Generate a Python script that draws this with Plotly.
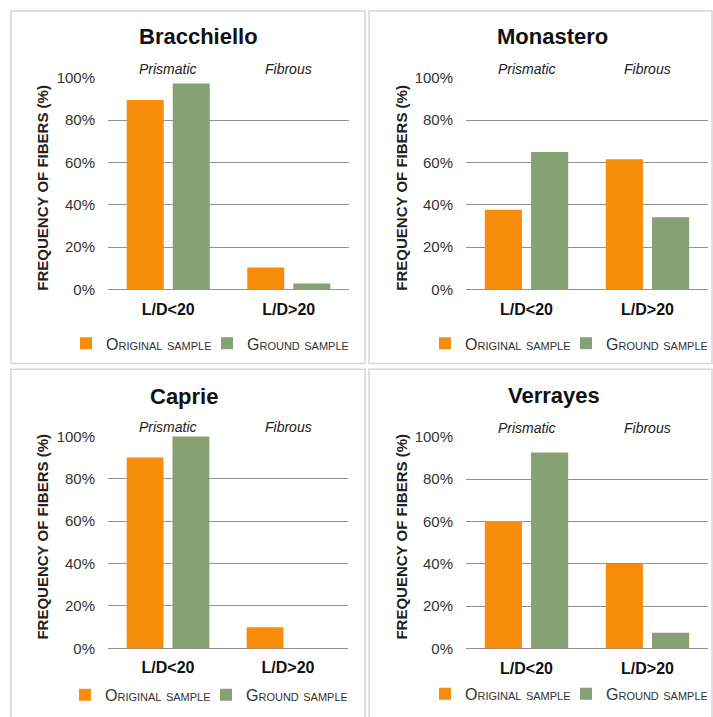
import plotly.graph_objects as go
from plotly.subplots import make_subplots

W, H = 713, 717

categories = ["L/D<20", "L/D>20"]
shape_labels = ["Prismatic", "Fibrous"]
sites = ["Bracchiello", "Monastero", "Caprie", "Verrayes"]
original = {
    "Bracchiello": [89.6, 10.4],
    "Monastero": [37.7, 61.5],
    "Caprie": [90.0, 10.0],
    "Verrayes": [60.2, 39.9],
}
ground = {
    "Bracchiello": [97.4, 2.8],
    "Monastero": [65.0, 34.2],
    "Caprie": [100.0, 0.0],
    "Verrayes": [92.6, 7.5],
}
y_ticks = [0, 20, 40, 60, 80, 100]
y_ticklabels = ["0%", "20%", "40%", "60%", "80%", "100%"]
series_names = ["Original sample", "Ground sample"]

ORANGE = "#F88D0B"
GREEN = "#86A174"
FONT = "Liberation Sans, Arial, Helvetica, sans-serif"

# the capture places the page slightly shifted/compressed vertically;
# these two numbers compensate for that
Y_OFF, Y_SCALE = 8.0, 0.978

def px(x):
    return x / W

def py(y):
    return 1 - ((y - Y_OFF) / Y_SCALE) / H

fig = make_subplots(rows=2, cols=2)

# plot-area domains in pixels (left, right, top, bottom)
domains = [
    (108, 349, 77, 289),
    (466, 708, 77, 289),
    (108, 348, 436, 648.5),
    (466, 708, 436.5, 648.7),
]
title_pos = [(198, 36), (552, 36), (184, 396), (554, 395)]
ytitle_pos = [(42.5, 187.5), (401.5, 187.5), (42.5, 537), (401.5, 537)]
legend_y = [343, 343, 695, 694]

annotations = []
for i, site in enumerate(sites):
    r, c = i // 2 + 1, i % 2 + 1
    leg = "legend" if i == 0 else f"legend{i+1}"
    fig.add_trace(go.Bar(x=categories, y=original[site], name=series_names[0],
                         marker=dict(color=ORANGE, line=dict(width=0)),
                         legend=leg), row=r, col=c)
    fig.add_trace(go.Bar(x=categories, y=ground[site], name=series_names[1],
                         marker=dict(color=GREEN, line=dict(width=0)),
                         legend=leg), row=r, col=c)
    l, rr, t, b = domains[i]
    ax = "" if i == 0 else str(i + 1)
    fig.layout["xaxis" + ax].update(domain=[px(l), px(rr)])
    fig.layout["yaxis" + ax].update(domain=[py(b), py(t)])
    fig.layout[leg] = dict(
        orientation="h", x=px(rr - 1), xanchor="right", y=py(legend_y[i]),
        yanchor="middle", font=dict(family=FONT, size=16, color="#333333",
                                    variant="small-caps"),
        bgcolor="rgba(0,0,0,0)", itemwidth=30, tracegroupgap=0,
        entrywidth=96, entrywidthmode="pixels",
    )
    xa = "x" + ax
    ya = "y" + ax
    for cat, lab in zip(categories, shape_labels):
        annotations.append(dict(x=cat, y=100, xref=xa, yref=ya, text=lab,
                                showarrow=False, yanchor="middle", yshift=9,
                                font=dict(family=FONT, size=14, color="#222222",
                                          style="italic")))
    tx, ty = title_pos[i]
    annotations.append(dict(x=px(tx), y=py(ty), xref="paper", yref="paper",
                            text=f"<b>{site}</b>", showarrow=False,
                            xanchor="center", yanchor="middle",
                            font=dict(family=FONT, size=22, color="#111111")))
    yx, yy = ytitle_pos[i]
    annotations.append(dict(x=px(yx), y=py(yy), xref="paper", yref="paper",
                            text="<b>FREQUENCY OF FIBERS (%)</b>", showarrow=False,
                            textangle=-90, xanchor="center", yanchor="middle",
                            font=dict(family=FONT, size=15, color="#222222")))

fig.update_xaxes(showgrid=False, showline=False, zeroline=False, ticks="",
                 tickfont=dict(family=FONT, size=16, color="#111111", weight="bold"),
                 ticklabelstandoff=8, fixedrange=True)
fig.update_yaxes(range=[0, 100], tickvals=y_ticks, ticktext=y_ticklabels,
                 showgrid=True, gridcolor="#929292", gridwidth=1,
                 zeroline=True, zerolinecolor="#929292", zerolinewidth=1,
                 showline=False, ticks="", ticklabelstandoff=12,
                 tickfont=dict(family=FONT, size=15, color="#333333"))

# panel frames
frames = [(11, 365, 10, 363), (369, 712, 10, 363), (11, 365, 369, 725), (369, 712, 369, 725)]
shapes = []
for (l, rr, t, b) in frames:
    shapes.append(dict(type="rect", xref="paper", yref="paper",
                       x0=px(l), x1=px(rr), y0=py(b), y1=py(t),
                       line=dict(color="#d6d6d6", width=1.5), layer="below"))

fig.update_layout(
    width=W, height=H, margin=dict(l=0, r=0, t=0, b=0),
    paper_bgcolor="white", plot_bgcolor="white",
    barmode="group", bargap=0.236, bargroupgap=0.196,
    annotations=annotations, shapes=shapes,
    font=dict(family=FONT),
)

fig.write_html(
    "out.html",
    config={"displayModeBar": False},
    post_script=(
        "var gd=document.getElementById('{plot_id}');"
        "gd.style.position='absolute';gd.style.left='0px';gd.style.top='0px';"
        "document.body.style.margin='0';document.body.style.padding='0';"
        "document.documentElement.style.overflow='hidden';"
    ),
)
